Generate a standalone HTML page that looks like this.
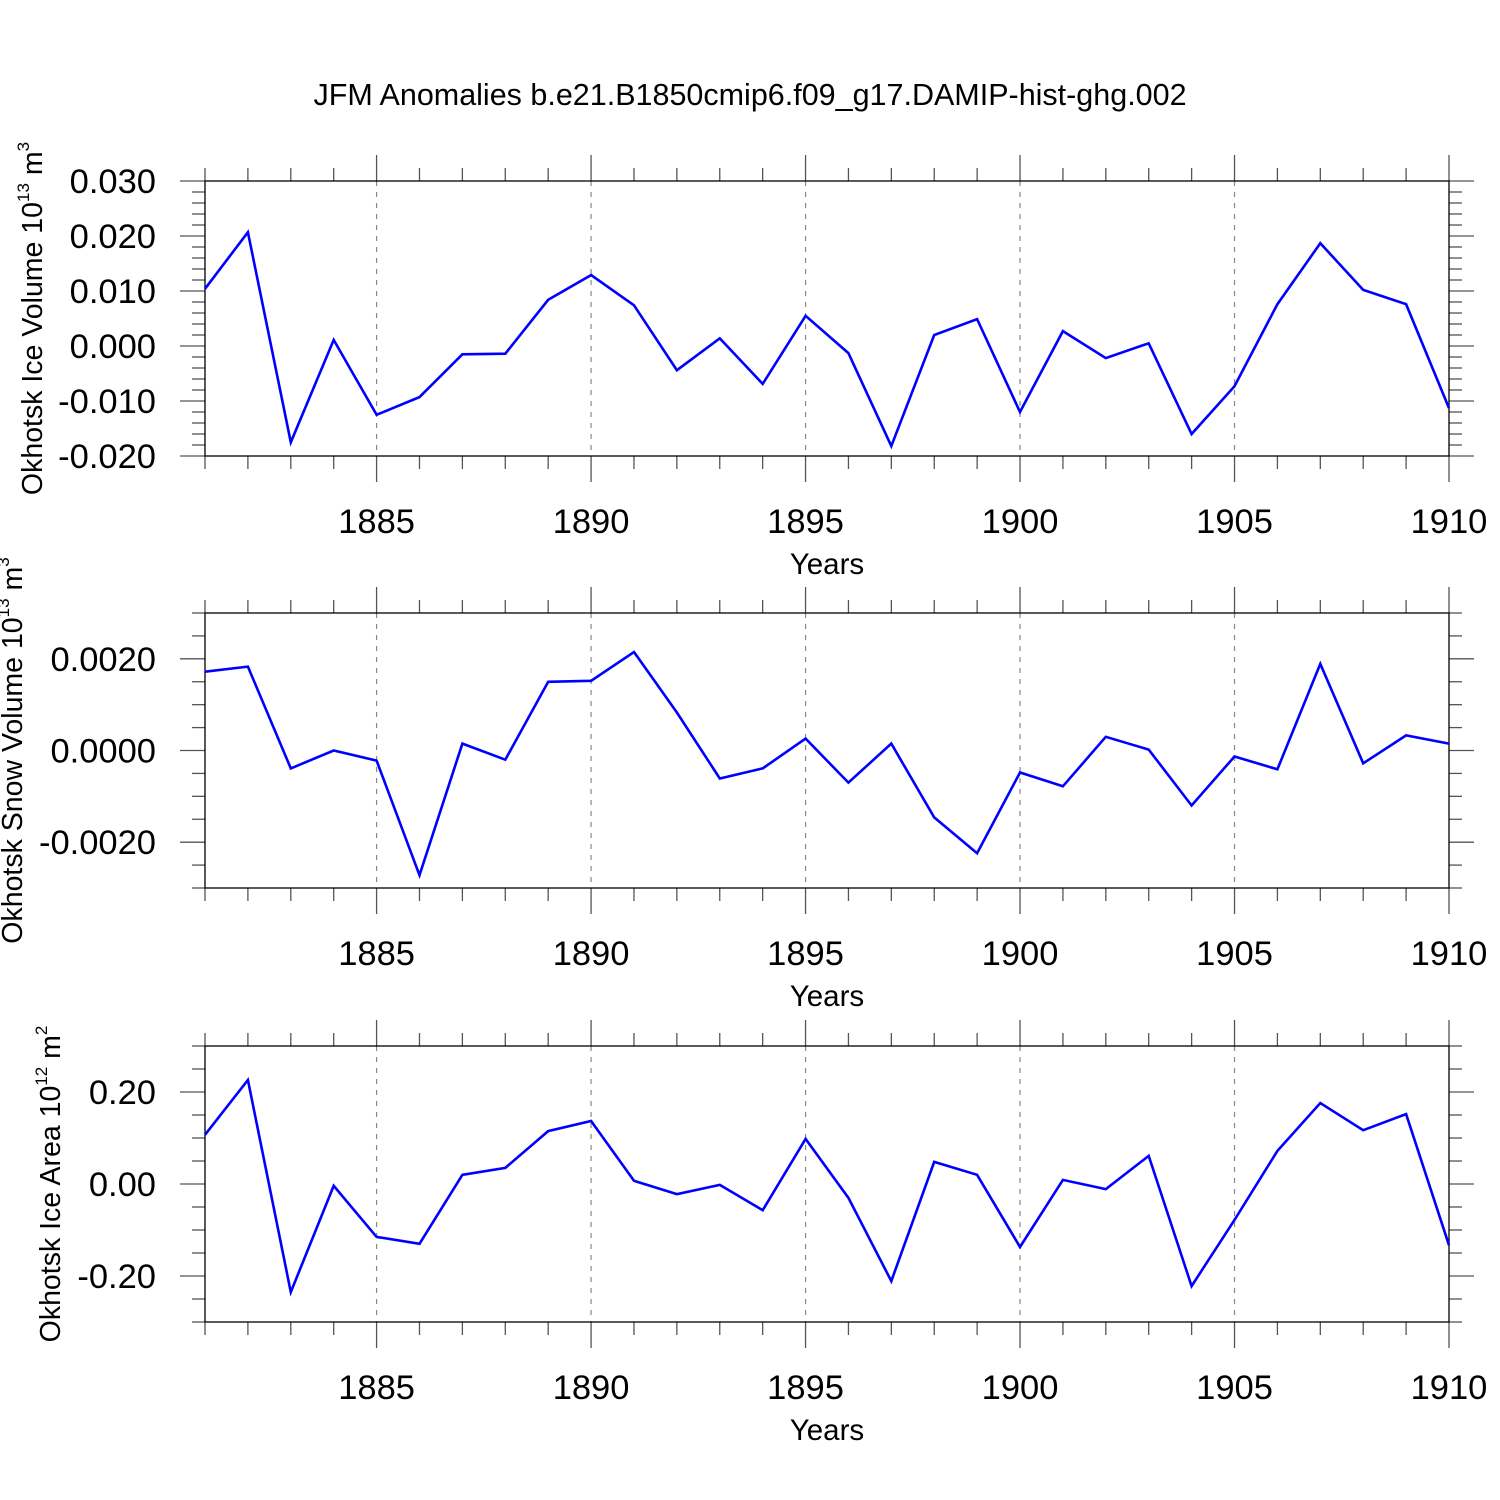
<!DOCTYPE html>
<html><head><meta charset="utf-8"><style>
html,body{margin:0;padding:0;background:#fff;}
svg{display:block;font-family:"Liberation Sans",sans-serif;}
</style></head><body>
<svg id="c" width="1500" height="1500" viewBox="0 0 1500 1500" xmlns="http://www.w3.org/2000/svg">
<text x="750" y="105" font-size="30.5" text-anchor="middle">JFM Anomalies b.e21.B1850cmip6.f09_g17.DAMIP-hist-ghg.002</text>
</svg>
<script>
const years = [];
for (let y = 1881; y <= 1910; y++) years.push(y);
const iceVolume = [0.0104,0.0207,-0.0175,0.0011,-0.0125,-0.0093,-0.0015,-0.0014,0.0084,0.0129,0.0074,-0.0044,0.0014,-0.0069,0.0055,-0.0013,-0.0182,0.0020,0.0049,-0.0120,0.0027,-0.0022,0.0005,-0.0160,-0.0073,0.0076,0.0187,0.0102,0.0076,-0.0113];
const snowVolume = [0.00172,0.00183,-0.00039,0.0,-0.00022,-0.00272,0.00015,-0.0002,0.0015,0.00152,0.00215,0.00083,-0.00061,-0.00039,0.00026,-0.0007,0.00015,-0.00146,-0.00224,-0.00048,-0.00078,0.0003,0.00002,-0.0012,-0.00013,-0.00041,0.00189,-0.00028,0.00033,0.00015];
const iceArea = [0.107,0.226,-0.235,-0.004,-0.115,-0.130,0.020,0.035,0.115,0.137,0.007,-0.022,-0.002,-0.057,0.098,-0.030,-0.211,0.048,0.020,-0.137,0.009,-0.011,0.061,-0.222,-0.078,0.072,0.176,0.117,0.152,-0.133];
const xTickYears = [1885,1890,1895,1900,1905,1910];
const ticks1 = [-0.020,-0.010,0.000,0.010,0.020,0.030];
const labels1 = ["-0.020","-0.010","0.000","0.010","0.020","0.030"];
const ticks2 = [-0.002,0,0.002];
const labels2 = ["-0.0020","0.0000","0.0020"];
const ticks3 = [-0.2,0,0.2];
const labels3 = ["-0.20","0.00","0.20"];

const NS = "http://www.w3.org/2000/svg";
const svg = document.getElementById('c');
function el(tag, attrs, parent, txt){
  const e = document.createElementNS(NS, tag);
  for (const k in attrs) e.setAttribute(k, attrs[k]);
  if (txt !== undefined) e.textContent = txt;
  (parent || svg).appendChild(e);
  return e;
}
const X0 = 205, X1 = 1449;
function xs(yr){ return X0 + (yr - 1881) / (1910 - 1881) * (X1 - X0); }

function panel(name, top, bot, ymin, ymax, minorStep, vals, ticks, labels, titleParts, titleX){
  const g = el('g', {});
  
  
  const ys = v => bot - (v - ymin) / (ymax - ymin) * (bot - top);
  xTickYears.forEach(yr => {
    if (yr === 1910) return;
    const l = el('line', {x1: xs(yr), x2: xs(yr), y1: top, y2: bot, stroke: '#888', 'stroke-width': 1.2, 'stroke-dasharray': '5,6'}, g);
    
    
  });
  years.forEach(yr => {
    const major = yr % 5 === 0;
    const len = major ? 26 : 13;
    const x = xs(yr);
    el('line', {x1: x, x2: x, y1: top - len, y2: top, stroke: '#555', 'stroke-width': 1.3}, g);
    el('line', {x1: x, x2: x, y1: bot, y2: bot + len, stroke: '#555', 'stroke-width': 1.3}, g);
  });
  const nMin = Math.round((ymax - ymin) / minorStep);
  for (let i = 0; i <= nMin; i++){
    const v = ymin + i * minorStep;
    const y = ys(v);
    const isMajor = ticks.some(t => Math.abs(t - v) < minorStep * 0.01);
    const len = isMajor ? 25 : 13;
    el('line', {x1: X0 - len, x2: X0, y1: y, y2: y, stroke: '#555', 'stroke-width': 1.3}, g);
    el('line', {x1: X1, x2: X1 + len, y1: y, y2: y, stroke: '#555', 'stroke-width': 1.3}, g);
  }
  const f = el('rect', {x: X0, y: top, width: X1 - X0, height: bot - top, fill: 'none', stroke: '#000', 'stroke-width': 1.3}, g);
  
  
  ticks.forEach((t, i) => {
    const tl = el('text', {x: 156, y: ys(t) + 12, 'font-size': 34.5, 'text-anchor': 'end'}, g, labels[i]);
    
    
  });
  xTickYears.forEach(yr => {
    const tl = el('text', {x: xs(yr), y: bot + 77, 'font-size': 34.5, 'text-anchor': 'middle'}, g, String(yr));
    
    
  });
  const xt = el('text', {x: 827, y: bot + 118, 'font-size': 29.5, 'text-anchor': 'middle'}, g, 'Years');
  
  
  const cy = (top + bot) / 2;
  const yt = el('text', {x: titleX, y: cy, 'font-size': 28.5, 'text-anchor': 'middle', transform: 'rotate(-90 ' + titleX + ' ' + cy + ')'}, g);
  
  
  el('tspan', {}, yt, titleParts[0]);
  el('tspan', {'font-size': 17, dy: -13}, yt, titleParts[1]);
  el('tspan', {dy: 13}, yt, ' ' + titleParts[2]);
  el('tspan', {'font-size': 17, dy: -13}, yt, titleParts[3]);
  const pts = vals.map((v, i) => xs(years[i]).toFixed(1) + ',' + ys(v).toFixed(1)).join(' ');
  const pl = el('polyline', {points: pts, fill: 'none', stroke: '#0000ff', 'stroke-width': 2.6, 'stroke-linejoin': 'miter'}, g);
  
  
}
panel('ice-volume', 181, 456, -0.020, 0.030, 0.002, iceVolume, ticks1, labels1, ['Okhotsk Ice Volume 10', '13', 'm', '3'], 42);
panel('snow-volume', 613, 888, -0.003, 0.003, 0.0005, snowVolume, ticks2, labels2, ['Okhotsk Snow Volume 10', '13', 'm', '3'], 22);
panel('ice-area', 1046, 1322, -0.3, 0.3, 0.05, iceArea, ticks3, labels3, ['Okhotsk Ice Area 10', '12', 'm', '2'], 60);
</script>
</body></html>
